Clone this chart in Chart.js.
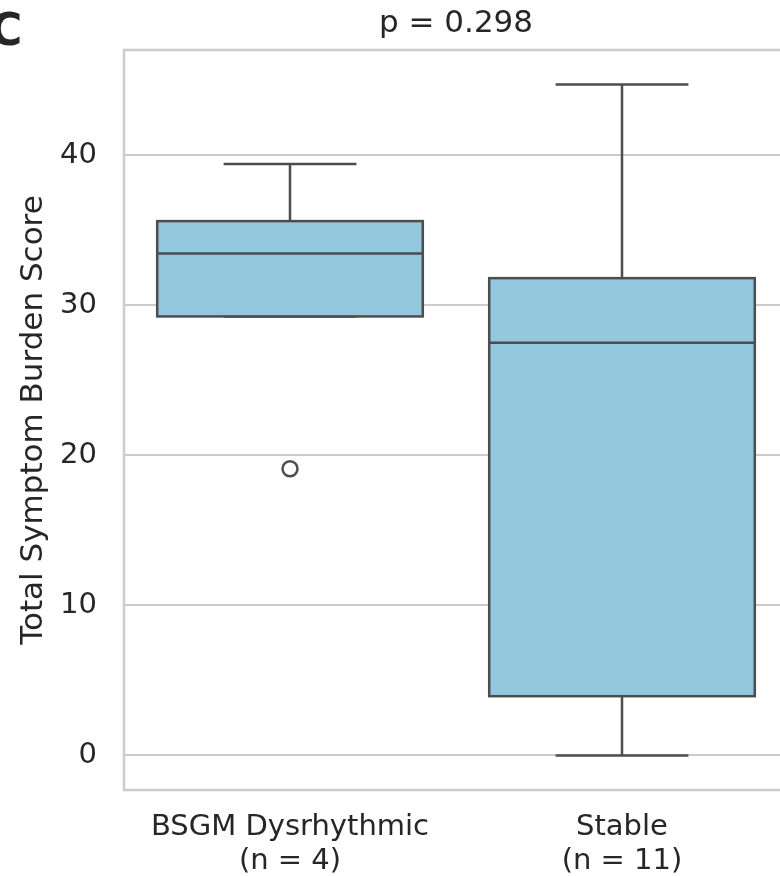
<!DOCTYPE html>
<html>
<head>
<meta charset="utf-8">
<script src="https://cdn.jsdelivr.net/npm/chart.js@4"></script>
<style>
  html, body { margin: 0; padding: 0; background: #fff; overflow: hidden; }
  #wrap { width: 780px; height: 876px; overflow: hidden; }
</style>
</head>
<body>
<div id="wrap"><canvas id="c" width="800" height="876"></canvas></div>
<script>
var categories = [["BSGM Dysrhythmic", "(n = 4)"], ["Stable", "(n = 11)"]];
var whiskerLow = [29.25, 0];
var q1 = [29.25, 3.95];
var median = [33.45, 27.5];
var q3 = [35.6, 31.8];
var whiskerHigh = [39.4, 44.7];
var outliers = [19.1, null];
var yTicks = [0, 10, 20, 30, 40];

var titleText = "p = 0.298";
var panelLetter = "C";
var yTitle = "Total Symptom Burden Score";

var lineColor = "#4d4d4d";
var gridColor = "#cccccc";
var textColor = "#262626";
var boxFill = "#93c7de";
var fontFamily = "'DejaVu Sans', sans-serif";

var boxData = q1.map(function (v, i) { return [v, q3[i]]; });

var boxExtras = {
    id: "box_extras",
    beforeDatasetsDraw: function (chart) {
        var ctx = chart.ctx;
        var a = chart.chartArea;
        // spines
        ctx.save();
        ctx.strokeStyle = gridColor;
        ctx.lineWidth = 2.5;
        ctx.strokeRect(a.left, a.top, a.right - a.left, a.bottom - a.top);
        // whiskers and caps
        var x = chart.scales.x, y = chart.scales.y;
        var meta = chart.getDatasetMeta(0);
        ctx.strokeStyle = lineColor;
        ctx.lineWidth = 2.5;
        for (var i = 0; i < categories.length; i++) {
            var cx = x.getPixelForValue(i);
            var half = meta.data[i].width / 4;
            ctx.beginPath();
            ctx.moveTo(cx, y.getPixelForValue(q3[i]));
            ctx.lineTo(cx, y.getPixelForValue(whiskerHigh[i]));
            ctx.moveTo(cx - half, y.getPixelForValue(whiskerHigh[i]));
            ctx.lineTo(cx + half, y.getPixelForValue(whiskerHigh[i]));
            ctx.moveTo(cx, y.getPixelForValue(q1[i]));
            ctx.lineTo(cx, y.getPixelForValue(whiskerLow[i]));
            ctx.moveTo(cx - half, y.getPixelForValue(whiskerLow[i]));
            ctx.lineTo(cx + half, y.getPixelForValue(whiskerLow[i]));
            ctx.stroke();
        }
        ctx.restore();
    },
    afterDatasetsDraw: function (chart) {
        var ctx = chart.ctx;
        var y = chart.scales.y;
        var meta = chart.getDatasetMeta(0);
        ctx.save();
        ctx.strokeStyle = lineColor;
        ctx.lineWidth = 2.5;
        for (var i = 0; i < categories.length; i++) {
            var bar = meta.data[i];
            var half = bar.width / 2;
            var top = y.getPixelForValue(q3[i]);
            var bottom = y.getPixelForValue(q1[i]);
            ctx.strokeRect(bar.x - half, top, bar.width, bottom - top);
            var my = y.getPixelForValue(median[i]);
            ctx.beginPath();
            ctx.moveTo(bar.x - half, my);
            ctx.lineTo(bar.x + half, my);
            ctx.stroke();
        }
        ctx.restore();
    },
    afterDraw: function (chart) {
        var ctx = chart.ctx;
        var a = chart.chartArea;
        ctx.save();
        ctx.fillStyle = textColor;
        ctx.textAlign = "center";
        ctx.textBaseline = "middle";
        ctx.font = "31px " + fontFamily;
        ctx.fillText(titleText, (a.left + a.right) / 2, 24);
        ctx.font = "bold 44px " + fontFamily;
        ctx.textAlign = "left";
        ctx.fillText(panelLetter, -10, 34);
        ctx.translate(34, (a.top + a.bottom) / 2);
        ctx.rotate(-Math.PI / 2);
        ctx.textAlign = "center";
        ctx.font = "31px " + fontFamily;
        ctx.fillText(yTitle, 0, 0);
        ctx.restore();
    }
};

var ctx = document.getElementById("c").getContext("2d");
var chart = new Chart(ctx, {
    type: "bar",
    data: {
        labels: categories,
        datasets: [
            {
                label: "box",
                data: boxData,
                backgroundColor: boxFill,
                borderWidth: 0,
                barPercentage: 0.8,
                categoryPercentage: 1.0
            },
            {
                type: "line",
                label: "outliers",
                data: outliers,
                showLine: false,
                pointRadius: 7.5,
                pointBorderWidth: 2.5,
                pointBorderColor: lineColor,
                pointBackgroundColor: "rgba(0,0,0,0)"
            }
        ]
    },
    options: {
        responsive: false,
        animation: false,
        layout: { padding: { top: 50, right: 12, left: 0, bottom: 0 } },
        plugins: {
            legend: { display: false },
            tooltip: { enabled: false }
        },
        scales: {
            x: {
                grid: { display: false, drawTicks: false },
                border: { display: false },
                ticks: {
                    color: textColor,
                    font: { family: fontFamily, size: 29, lineHeight: 1.15 },
                    padding: 21,
                    maxRotation: 0
                },
                afterFit: function (s) { s.height = 86; }
            },
            y: {
                min: -2.3,
                max: 47,
                grid: { color: gridColor, lineWidth: 2, drawTicks: false },
                border: { display: false },
                afterBuildTicks: function (s) {
                    s.ticks = yTicks.map(function (v) { return { value: v }; });
                },
                ticks: {
                    color: textColor,
                    font: { family: fontFamily, size: 29 },
                    padding: 27
                },
                afterFit: function (s) { s.width = 124; }
            }
        }
    },
    plugins: [boxExtras]
});
</script>
</body>
</html>
